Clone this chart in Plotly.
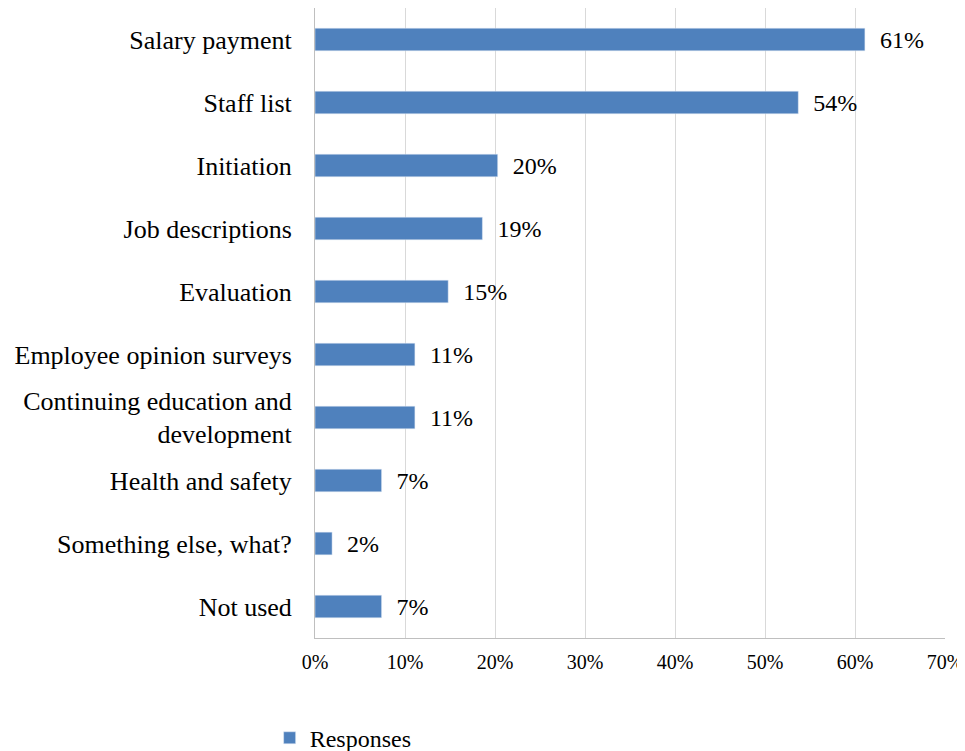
import plotly.graph_objects as go

categories = ["Salary payment", "Staff list", "Initiation", "Job descriptions", "Evaluation",
              "Employee opinion surveys", "Continuing education and<br>development",
              "Health and safety", "Something else, what?", "Not used"]
values = [0.611, 0.537, 0.203, 0.186, 0.148, 0.111, 0.111, 0.074, 0.019, 0.074]
labels = ["61%", "54%", "20%", "19%", "15%", "11%", "11%", "7%", "2%", "7%"]
tick_vals = [0, 0.1, 0.2, 0.3, 0.4, 0.5, 0.6, 0.7]

font = "Liberation Serif, Times New Roman, serif"

fig = go.Figure(go.Bar(
    x=values, y=categories, orientation="h", name="Responses",
    marker=dict(color="#4F81BD"), width=0.36,
    text=labels, texttemplate="  %{text}", textposition="outside", cliponaxis=False,
    constraintext="none",
    textfont=dict(family=font, size=24, color="black"),
))

fig.update_layout(
    width=965, height=751,
    margin=dict(l=307, r=28, t=0, b=121, autoexpand=False),
    paper_bgcolor="white", plot_bgcolor="white",
    font=dict(family=font, color="black"),
    showlegend=True,
    legend=dict(orientation="h", x=-0.072, y=-0.159, xanchor="left", yanchor="middle",
                font=dict(family=font, size=24, color="black"), itemwidth=30),
    xaxis=dict(range=[0, 0.7], tickvals=tick_vals, tickformat=".0%",
               showgrid=True, gridcolor="#D9D9D9", gridwidth=1,
               showline=True, linecolor="#BFBFBF", linewidth=1,
               zeroline=False, ticks="", ticklabelstandoff=6,
               tickfont=dict(family=font, size=20, color="black")),
    yaxis=dict(autorange="reversed", showline=True, linecolor="#BFBFBF", linewidth=1,
               showgrid=False, ticks="", ticklabelstandoff=17,
               tickfont=dict(family=font, size=26, color="black")),
)

fig.write_html("out.html")
